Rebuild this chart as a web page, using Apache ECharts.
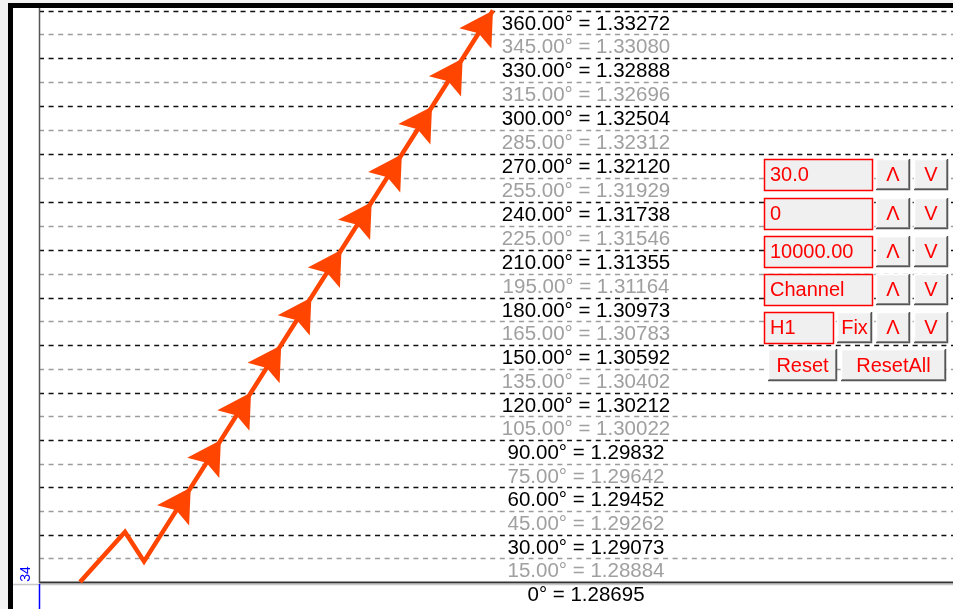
<!DOCTYPE html>
<html><head><meta charset="utf-8">
<script src="https://cdn.jsdelivr.net/npm/echarts@6/dist/echarts.min.js"></script>
<style>html,body{margin:0;padding:0;background:#f2f2f2;}#c{width:953px;height:609px;}</style>
</head><body><div id="c"></div>
<script>
// ---- data ----
const degrees = [0,15,30,45,60,75,90,105,120,135,150,165,180,195,210,225,240,255,270,285,300,315,330,345,360];
const prices  = [1.28695,1.28884,1.29073,1.29262,1.29452,1.29642,1.29832,1.30022,1.30212,1.30402,1.30592,1.30783,1.30973,1.31164,1.31355,1.31546,1.31738,1.31929,1.32120,1.32312,1.32504,1.32696,1.32888,1.33080,1.33272];
const labelX = 59.85;                       // x position (axis units) of level captions
const pathX = [4.49, 9.41, 11.49, 49.67];   // orange zig-zag (axis units)
const pathY = [1.28695, 1.29095, 1.28860, 1.33272];
const arrowX = [16.6, 19.9, 23.2, 26.5, 29.8, 33.1, 36.4, 39.7, 43.0, 46.35, 49.67];
const arrowY = [1.29452, 1.29832, 1.30212, 1.30592, 1.30973, 1.31355, 1.31738, 1.32120, 1.32504, 1.32888, 1.33272];
const editTexts = ['30.0', '0', '10000.00', 'Channel', 'H1'];
const upText = 'Λ', downText = 'V';
const sepLabel = '34';

const FONT = '"Liberation Sans", Arial, sans-serif';
const ORANGE = '#FF4500';

const chart = echarts.init(document.getElementById('c'), null, {renderer: 'canvas'});

function levelLabel(d, p) {
  return (d === 0 ? '0' : d.toFixed(2)) + '° = ' + p.toFixed(5);
}

// ---- panel graphics ----
const g = [];
g.push({type:'rect', shape:{x:13, y:8, width:940, height:601}, style:{fill:'#ffffff'}, z:0, silent:true});
g.push({type:'rect', shape:{x:8, y:3, width:945, height:5}, style:{fill:'#000'}, z:50});
g.push({type:'rect', shape:{x:8, y:3, width:5, height:606}, style:{fill:'#000'}, z:50});
g.push({type:'line', shape:{x1:13, y1:584.5, x2:953, y2:584.5}, style:{stroke:'#c8c8c8', lineWidth:1.5}, z:5});
g.push({type:'line', shape:{x1:39.5, y1:8, x2:39.5, y2:583}, style:{stroke:'#555', lineWidth:1.5}, z:5});
g.push({type:'line', shape:{x1:39.5, y1:584, x2:39.5, y2:609}, style:{stroke:'#0000ff', lineWidth:1.5}, z:5});
g.push({type:'text', x:26, y:574, rotation:Math.PI/2, style:{text:sepLabel, fill:'#0000ff', font:'14px ' + FONT, align:'center', verticalAlign:'middle'}, z:5});

function editBox(x, y, w, h, txt) {
  g.push({type:'rect', shape:{x:x+0.5, y:y+0.5, width:w, height:h}, style:{fill:'#f0f0f0', stroke:'#ff0000', lineWidth:1.5}, z:20});
  g.push({type:'text', style:{text:txt, x:x+6, y:y+h/2+1, fill:'#ff0000', font:'20px ' + FONT, align:'left', verticalAlign:'middle'}, z:21});
}
function button(x, y, w, h, txt) {
  g.push({type:'rect', shape:{x:x, y:y, width:w, height:h}, style:{fill:'#f0f0f0'}, z:20});
  g.push({type:'polyline', shape:{points:[[x+0.5, y+h-1], [x+0.5, y+0.5], [x+w-1, y+0.5]]}, style:{stroke:'#ffffff', lineWidth:1.5, fill:null}, z:21});
  g.push({type:'polyline', shape:{points:[[x+1, y+h-1.5], [x+w-1.5, y+h-1.5], [x+w-1.5, y+1]]}, style:{stroke:'#9a9a9a', lineWidth:1, fill:null}, z:21});
  g.push({type:'polyline', shape:{points:[[x, y+h-0.5], [x+w-0.5, y+h-0.5], [x+w-0.5, y]]}, style:{stroke:'#555555', lineWidth:1.5, fill:null}, z:21});
  g.push({type:'text', style:{text:txt, x:x+w/2, y:y+h/2+1, fill:'#ff0000', font:'20px ' + FONT, align:'center', verticalAlign:'middle'}, z:22});
}
const rowY = [159, 198, 236, 274, 312];
const rowH = 31;
editTexts.forEach((t, i) => {
  if (i < 4) {
    editBox(764, rowY[i], 108, rowH, t);
  } else {
    editBox(764, rowY[i], 69, rowH, t);
    button(837, rowY[i], 35, rowH, 'Fix');
  }
  button(876, rowY[i], 34, rowH, upText);
  button(914, rowY[i], 34, rowH, downText);
});
button(768, 349, 69, 32, 'Reset');
button(841, 349, 105, 32, 'ResetAll');

// ---- axis range so that 0° sits at y=582 and 360° at y=10.5 ----
const pxPerUnit = (582 - 10.5) / (prices[prices.length-1] - prices[0]);
const yMax = prices[prices.length-1] + 2.5 / pxPerUnit;
const yMin = prices[0] - 27 / pxPerUnit;

chart.setOption({
  animation: false,
  backgroundColor: 'transparent',
  grid: {left: 39, right: 0, top: 8, bottom: 0, containLabel: false},
  xAxis: {type: 'value', min: 0, max: 100, show: false},
  yAxis: {type: 'value', min: yMin, max: yMax, show: false, scale: true},
  graphic: {elements: g},
  series: [
    {
      type: 'custom', z: 2, clip: false, silent: true,
      data: prices.map((p, i) => [labelX, p, degrees[i]]),
      encode: {x: 0, y: 1},
      renderItem: function (params, api) {
        const d = api.value(2), p = api.value(1);
        const pt = api.coord([api.value(0), p]);
        const cs = params.coordSys;
        const y = Math.round(pt[1]) + 0.5;
        const major = d % 30 === 0;
        const stroke = d === 0 ? '#333333' : (major ? '#111111' : '#9c9c9c');
        return {type: 'group', children: [
          {type: 'line', shape: {x1: cs.x, y1: y, x2: cs.x + cs.width, y2: y},
           style: {stroke: stroke, lineWidth: d === 0 ? 1.8 : 1.3, lineDash: d === 0 ? null : [5, 4.6]}},
          {type: 'text', style: {text: levelLabel(d, p), x: pt[0], y: y + 12.5, align: 'center', verticalAlign: 'middle',
            fill: major ? '#000' : '#a0a0a0', font: '20.5px ' + FONT}}
        ]};
      }
    },
    {
      type: 'line', z: 3, silent: true, symbol: 'none',
      data: pathX.map((x, i) => [x, pathY[i]]),
      lineStyle: {color: ORANGE, width: 4.5, join: 'miter'}
    },
    {
      type: 'custom', z: 4, clip: false, silent: true,
      data: arrowX.map((x, i) => [x, arrowY[i]]),
      encode: {x: 0, y: 1},
      renderItem: function (params, api) {
        const t = api.coord([api.value(0), api.value(1)]);
        const a = api.coord([pathX[2], pathY[2]]);
        const b = api.coord([pathX[3], pathY[3]]);
        let ux = b[0] - a[0], uy = b[1] - a[1];
        const len = Math.sqrt(ux*ux + uy*uy); ux /= len; uy /= len;
        const nx = -uy, ny = ux;
        const L = 33, W = 19, N = 27;
        return {type: 'polygon', shape: {points: [
          [t[0], t[1]],
          [t[0] - L*ux + W*nx, t[1] - L*uy + W*ny],
          [t[0] - N*ux, t[1] - N*uy],
          [t[0] - L*ux - W*nx, t[1] - L*uy - W*ny]
        ]}, style: {fill: ORANGE}};
      }
    }
  ]
});
</script></body></html>
